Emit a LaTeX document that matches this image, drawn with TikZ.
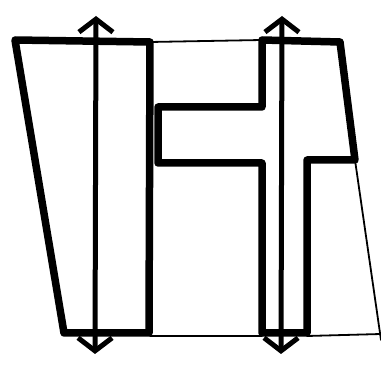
\documentclass[tikz,border=0pt]{standalone}
\usetikzlibrary{arrows.meta}

\begin{document}
\begin{tikzpicture}[
  x=1pt, y=-1pt,
  wall/.style={line width=7.5pt, line join=round, line cap=round},
  edge/.style={line width=1.8pt, line cap=round},
  axis/.style={line width=5pt, {Straight Barb[length=13pt, width=34pt, line width=5pt]}-{Straight Barb[length=13pt, width=34pt, line width=5pt]}}
]
  \useasboundingbox (0,0) rectangle (381,366);

  % thin site outline
  \draw[edge] (150,42) -- (262,40);
  \draw[edge] (150,336) -- (262,336);
  \draw[edge] (307,336) -- (381,334);
  \draw[edge] (355,160) -- (381,340);

  % left block
  \draw[wall] (15,40) -- (150,42) -- (149,333) -- (64,333) -- cycle;

  % right block
  \draw[wall] (262,40) -- (340,42) -- (355,160) -- (307,160) -- (307,333)
    -- (262,333) -- (262,163) -- (158,163) -- (158,107) -- (262,107) -- cycle;

  % axes
  \coordinate (a1top) at (96,16);
  \coordinate (a1bot) at (95,354);
  \coordinate (a2top) at (282,16);
  \coordinate (a2bot) at (281,354);
  \draw[axis] (a1bot) -- (a1top);
  \draw[axis] (a2bot) -- (a2top);
\end{tikzpicture}
\end{document}
